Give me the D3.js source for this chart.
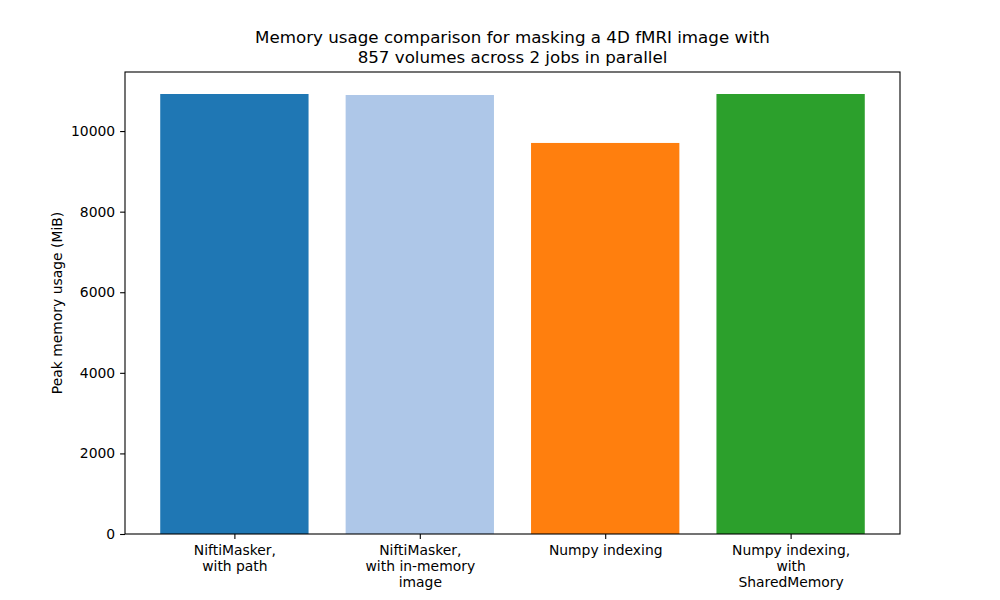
<!DOCTYPE html>
<html>
<head>
<meta charset="utf-8">
<script src="https://cdn.jsdelivr.net/npm/d3@7"></script>
<style>
  body { margin: 0; background: #fff; }
  svg, svg text { font-family: "DejaVu Sans", sans-serif; }
</style>
</head>
<body>
<div id="chart"></div>
<script>
// Chart data
const categories = [
  ['NiftiMasker,', 'with path'],
  ['NiftiMasker,', 'with in-memory', 'image'],
  ['Numpy indexing'],
  ['Numpy indexing,', 'with', 'SharedMemory']
];
const peakMemory = [10920, 10895, 9705, 10920];
const barColors = ['#1f77b4', '#aec7e8', '#ff7f0e', '#2ca02c'];
const yTicks = [0, 2000, 4000, 6000, 8000, 10000];
const titleLines = [
  'Memory usage comparison for masking a 4D fMRI image with',
  '857 volumes across 2 jobs in parallel'
];

const width = 1000;
const height = 600;
const margin = { top: 72, right: 100, bottom: 66, left: 125 };
const innerW = width - margin.left - margin.right;
const innerH = height - margin.top - margin.bottom;
const fs = 13.9;   // 10pt at 100 dpi

const svg = d3.select('#chart')
  .append('svg')
  .attr('width', width)
  .attr('height', height);

const g = svg.append('g')
  .attr('transform', `translate(${margin.left},${margin.top})`);

// matplotlib-like x limits: bars at 0..n-1 with width 0.8, 5% margins
const n = categories.length;
const lo = -0.4, hi = n - 1 + 0.4;
const pad = (hi - lo) * 0.05;
const x = d3.scaleLinear().domain([lo - pad, hi + pad]).range([0, innerW]);

const y = d3.scaleLinear()
  .domain([0, d3.max(peakMemory) * 1.05])
  .range([innerH, 0]);

// Bars
g.selectAll('rect.bar')
  .data(peakMemory)
  .enter()
  .append('rect')
  .attr('class', 'bar')
  .attr('x', (d, i) => x(i - 0.4))
  .attr('y', d => y(d))
  .attr('width', x(0.8) - x(0))
  .attr('height', d => innerH - y(d))
  .attr('fill', (d, i) => barColors[i]);

// Y axis
const yAxis = g.append('g')
  .call(d3.axisLeft(y).tickValues(yTicks).tickSize(4.9).tickPadding(4.9).tickFormat(d3.format('d')));
yAxis.attr('font-family', null).attr('font-size', null);
yAxis.select('.domain').remove();
yAxis.selectAll('text').attr('font-size', fs).attr('fill', '#000');
yAxis.selectAll('line').attr('stroke', '#000').attr('stroke-width', 1.1);

// X axis with multi-line labels
const xAxis = g.append('g')
  .attr('transform', `translate(0,${innerH})`)
  .call(d3.axisBottom(x).tickValues(d3.range(n)).tickSize(4.9).tickFormat(''));
xAxis.attr('font-family', null).attr('font-size', null);
xAxis.select('.domain').remove();
xAxis.selectAll('line').attr('stroke', '#000').attr('stroke-width', 1.1);
xAxis.selectAll('.tick').each(function(d) {
  const t = d3.select(this).append('text')
    .attr('text-anchor', 'middle')
    .attr('font-size', fs)
    .attr('fill', '#000');
  categories[d].forEach((line, k) => {
    t.append('tspan').attr('x', 0).attr('y', 21 + k * 16).text(line);
  });
});

// Frame
g.append('rect')
  .attr('width', innerW)
  .attr('height', innerH)
  .attr('fill', 'none')
  .attr('stroke', '#000')
  .attr('stroke-width', 1.1);

// Y label
svg.append('text')
  .attr('transform', `translate(62,${margin.top + innerH / 2}) rotate(-90)`)
  .attr('text-anchor', 'middle')
  .attr('font-size', fs)
  .text('Peak memory usage (MiB)');

// Title
const title = svg.append('text')
  .attr('text-anchor', 'middle')
  .attr('font-size', 16.7)
  .attr('fill', '#000');
titleLines.forEach((line, k) => {
  title.append('tspan')
    .attr('x', margin.left + innerW / 2)
    .attr('y', 43 + k * 20)
    .text(line);
});
</script>
</body>
</html>
